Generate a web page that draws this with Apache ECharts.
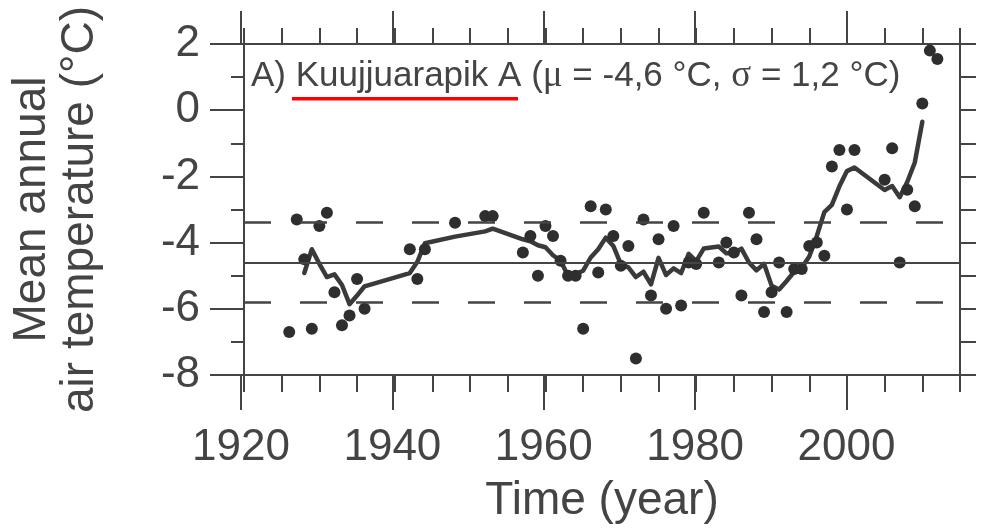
<!DOCTYPE html>
<html>
<head>
<meta charset="utf-8">
<script src="https://cdn.jsdelivr.net/npm/echarts@6/dist/echarts.min.js"></script>
<style>
html,body{margin:0;padding:0;background:#fff;}
#chart{width:986px;height:529px;}
</style>
</head>
<body>
<div id="chart"></div>
<script>
// Annual observations (year, mean annual air temperature °C)
const years = [1926,1927,1928,1929,1930,1931,1932,1933,1934,1935,1936,
  1942,1943,1944,1948,1952,1953,1957,1958,1959,1960,1961,1962,1963,1964,1965,
  1966,1967,1968,1969,1970,1971,1972,1973,1974,1975,1976,1977,1978,1979,1980,
  1981,1983,1984,1985,1986,1987,1988,1989,1990,1991,1992,1993,1994,1995,1996,
  1997,1998,1999,2000,2001,2005,2006,2007,2008,2009,2010,2011,2012];
const temps = [-6.7,-3.3,-4.5,-6.6,-3.5,-3.1,-5.5,-6.5,-6.2,-5.1,-6.0,
  -4.2,-5.1,-4.2,-3.4,-3.2,-3.2,-4.3,-3.8,-5.0,-3.5,-3.8,-4.55,-5.0,-5.0,-6.6,
  -2.9,-4.9,-3.0,-3.8,-4.7,-4.1,-7.5,-3.3,-5.6,-3.9,-6.0,-3.5,-5.9,-4.6,-4.65,
  -3.1,-4.6,-4.0,-4.3,-5.6,-3.1,-3.9,-6.1,-5.5,-4.6,-6.1,-4.8,-4.8,-4.1,-4.0,
  -4.4,-1.7,-1.2,-3.0,-1.2,-2.1,-1.15,-4.6,-2.4,-2.9,0.2,1.8,1.55];

// Smoothed curve
const maYears = [1928,1929,1930,1931,1932,1933,1934,1935,1936,1942,1943,1944,
  1948,1952,1953,1957,1958,1959,1960,1961,1962,1963,1964,1965,1966,1967,1968,
  1969,1970,1971,1972,1973,1974,1975,1976,1977,1978,1979,1980,1981,1983,1984,
  1985,1986,1987,1988,1989,1990,1991,1992,1993,1994,1995,1996,1997,1998,1999,
  2000,2001,2005,2006,2007,2008,2009,2010];
const maTemps = [-4.92,-4.2,-4.64,-5.04,-4.96,-5.28,-5.86,-5.6,-5.32,-4.92,-4.58,-4.02,
  -3.82,-3.66,-3.58,-3.9,-3.96,-4.08,-4.14,-4.38,-4.55,-5.0,-4.95,-4.85,-4.45,-4.2,-3.85,
  -4.1,-4.65,-4.75,-5.04,-4.88,-5.26,-4.46,-4.98,-4.78,-4.92,-4.34,-4.56,-4.18,-4.12,-4.32,
  -4.32,-4.18,-4.6,-4.84,-4.64,-5.3,-5.42,-5.16,-4.88,-4.76,-4.42,-3.8,-3.08,-2.86,-2.3,
  -1.84,-1.73,-2.41,-2.29,-2.63,-2.17,-1.58,-0.35];

// Reference levels: mean and mean ± sigma
const meanLevel = [-4.6];
const sigmaLevels = [-3.4, -5.8];

// Axis tick values
const xTickLabels = [1920, 1940, 1960, 1980, 2000];
const yTickLabels = [-8, -6, -4, -2, 0, 2];

const INK = '#444444';
const FONT = "'Liberation Sans', Arial, Helvetica, sans-serif";

const chart = echarts.init(document.getElementById('chart'), null, {renderer: 'canvas'});

const xMin = xTickLabels[0], xMajorMax = xTickLabels[xTickLabels.length - 1], xMax = 2015;
const yMin = yTickLabels[0], yMax = yTickLabels[yTickLabels.length - 1];

const lineW = 2;
function frameAxis(extra) {
  return Object.assign({
    type: 'value',
    axisLine: {show: true, onZero: false, lineStyle: {color: INK, width: lineW}},
    axisTick: {show: true, inside: false, lineStyle: {color: INK, width: lineW}},
    axisLabel: {show: false},
    splitLine: {show: false}
  }, extra);
}

const option = {
  backgroundColor: '#ffffff',
  animation: false,
  grid: [
    {left: 241, right: 26, top: 44, bottom: 153},
    {left: 241, right: 139.5, top: 44, bottom: 153}
  ],
  xAxis: [
    frameAxis({gridIndex: 0, position: 'bottom', min: xMin, max: xMax, interval: 5,
      axisTick: {show: true, inside: false, length: 17, lineStyle: {color: INK, width: lineW}},
      name: 'Time (year)', nameLocation: 'middle', nameGap: 103,
      nameTextStyle: {fontFamily: FONT, fontSize: 46, color: INK}}),
    frameAxis({gridIndex: 0, position: 'top', min: xMin, max: xMax, interval: 5,
      axisTick: {show: true, inside: false, length: 16, lineStyle: {color: INK, width: lineW}}}),
    frameAxis({gridIndex: 1, position: 'bottom', min: xMin, max: xMajorMax, interval: 20,
      axisLine: {show: false, onZero: false},
      axisTick: {show: true, inside: false, length: 34, lineStyle: {color: INK, width: lineW}},
      axisLabel: {show: true, margin: 50, fontFamily: FONT, fontSize: 44, color: INK,
        formatter: v => (xTickLabels.indexOf(v) >= 0 ? String(v) : '')}}),
    frameAxis({gridIndex: 1, position: 'top', min: xMin, max: xMajorMax, interval: 20,
      axisLine: {show: false, onZero: false},
      axisTick: {show: true, inside: false, length: 33, lineStyle: {color: INK, width: lineW}}})
  ],
  yAxis: [
    frameAxis({gridIndex: 0, position: 'left', min: yMin, max: yMax, interval: 2,
      axisTick: {show: true, inside: false, length: 34, lineStyle: {color: INK, width: lineW}},
      minorTick: {show: true, splitNumber: 2, length: 13, lineStyle: {color: INK, width: lineW}},
      minorSplitLine: {show: false},
      axisLabel: {show: true, margin: 44, fontFamily: FONT, fontSize: 44, color: INK,
        formatter: v => (yTickLabels.indexOf(v) >= 0 ? String(v) : '')},
      name: 'Mean annual\nair temperature (°C)', nameLocation: 'middle', nameGap: 140,
      nameTextStyle: {fontFamily: FONT, fontSize: 46, lineHeight: 48, color: INK}}),
    frameAxis({gridIndex: 0, position: 'right', min: yMin, max: yMax, interval: 1,
      axisTick: {show: true, inside: false, length: 16, lineStyle: {color: INK, width: lineW}}}),
    {type: 'value', gridIndex: 1, min: yMin, max: yMax, show: false}
  ],
  graphic: [
    {
      type: 'text', left: 251, top: 58, z: 100,
      style: {
        text: '{a|A) Kuujjuarapik A (}{g|μ}{a| = -4,6 °C, }{g|σ}{a| = 1,2 °C)}',
        rich: {
          a: {fontFamily: FONT, fontSize: 35, fill: INK, lineHeight: 37},
          g: {fontFamily: "'Liberation Serif', 'Times New Roman', serif", fontSize: 37, fill: INK, lineHeight: 37}
        }
      }
    },
    {
      type: 'rect', z: 100,
      shape: {x: 292, y: 97, width: 226, height: 3.5},
      style: {fill: '#ff0000'}
    }
  ],
  series: [
    {
      name: 'levels', type: 'line', xAxisIndex: 0, yAxisIndex: 0, data: [],
      silent: true,
      markLine: {
        silent: true, symbol: 'none', animation: false,
        label: {show: false},
        data: [
          ...meanLevel.map(v => ({yAxis: v, lineStyle: {color: INK, width: 2, type: 'solid'}})),
          ...sigmaLevels.map(v => ({yAxis: v, lineStyle: {color: INK, width: 2.5, type: [27, 29], dashOffset: 0}}))
        ]
      }
    },
    {
      name: 'smoothed', type: 'line', xAxisIndex: 0, yAxisIndex: 0,
      data: maYears.map((y, i) => [y, maTemps[i]]),
      showSymbol: false, symbol: 'none',
      lineStyle: {color: '#3a3a3a', width: 4.5, join: 'round', cap: 'round'},
      z: 3
    },
    {
      name: 'annual', type: 'scatter', xAxisIndex: 0, yAxisIndex: 0,
      data: years.map((y, i) => [y, temps[i]]),
      symbol: 'circle', symbolSize: 12,
      itemStyle: {color: '#2e2e2e', opacity: 1},
      z: 4
    }
  ]
};
chart.setOption(option);
</script>
</body>
</html>
